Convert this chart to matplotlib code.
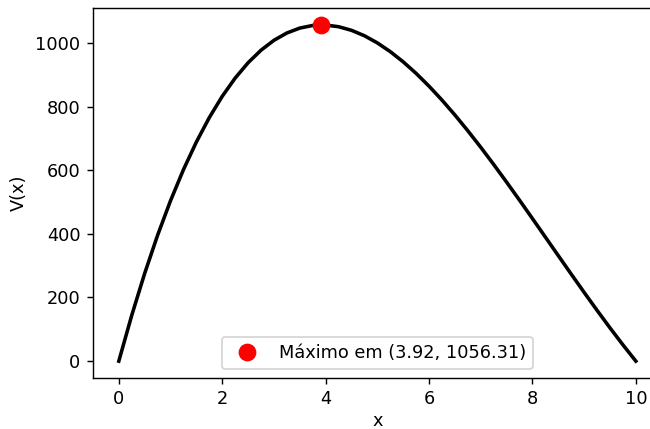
import matplotlib
matplotlib.use("Agg")
import matplotlib.pyplot as plt

# V(x) values
x_vals = [0, 0.25, 0.5, 0.75, 1.0, 1.25, 1.5, 1.75, 2.0, 2.25, 2.5, 2.75, 3.0,
          3.25, 3.5, 3.75, 4.0, 4.25, 4.5, 4.75, 5.0, 5.25, 5.5, 5.75, 6.0,
          6.25, 6.5, 6.75, 7.0, 7.25, 7.5, 7.75, 8.0, 8.25, 8.5, 8.75, 9.0,
          9.25, 9.5, 9.75, 10.0]
v_vals = [0, 143.81, 275.5, 395.44, 504, 601.56, 688.5, 765.19, 832, 889.31,
          937.5, 976.94, 1008, 1031.06, 1046.5, 1054.69, 1056, 1050.81, 1039.5,
          1022.44, 1000, 972.56, 940.5, 904.19, 864, 820.31, 773.5, 723.94, 672,
          618.06, 562.5, 505.69, 448, 389.81, 331.5, 273.44, 216, 159.56, 104.5,
          51.19, 0]
x_max = 3.92
v_max = 1056.31

# picture is a scaled-up, slightly cropped figure
fig, ax = plt.subplots(figsize=(6.5 / 1.28, 4.29 / 1.28), dpi=128)
ax.plot(x_vals, v_vals, color='black', linewidth=2)
ax.plot(x_max, v_max, 'o', color='red', markersize=9,
        label=f'Máximo em ({x_max:.2f}, {v_max:.2f})')
ax.set_xlabel('x', labelpad=2)
ax.set_ylabel('V(x)')
ax.legend(loc='lower center')
fig.subplots_adjust(left=0.143, right=1.018, top=0.981, bottom=0.119)
fig.savefig('out.png')
